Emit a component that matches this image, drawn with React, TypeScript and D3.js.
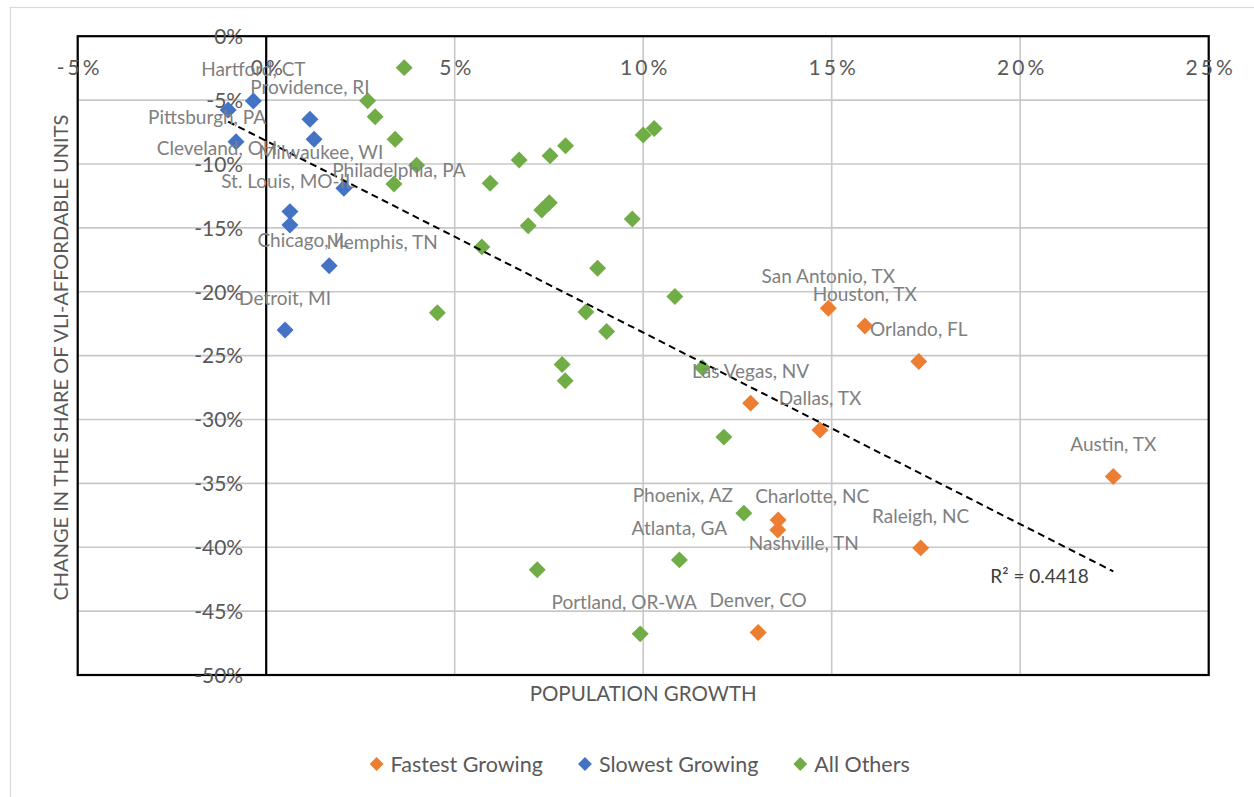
import { useEffect, useRef } from 'react'
import * as d3 from 'd3'

// Fastest growing metros (population growth %, change in VLI-affordable share %)
const fastNames = ['San Antonio, TX', 'Houston, TX', 'Orlando, FL', 'Las Vegas, NV', 'Dallas, TX', 'Austin, TX', 'Charlotte, NC', 'Nashville, TN', 'Raleigh, NC', 'Denver, CO']
const fastX = [14.91, 15.88, 17.31, 12.85, 14.69, 22.47, 13.58, 13.57, 17.36, 13.05]
const fastY = [-21.29, -22.68, -25.47, -28.72, -30.82, -34.47, -37.86, -38.65, -40.05, -46.67]

// Slowest growing metros
const slowNames = ['Hartford, CT', 'Pittsburgh, PA', 'Cleveland, OH', 'Providence, RI', 'Milwaukee, WI', 'Philadelphia, PA', 'St. Louis, MO-IL', 'Chicago, IL', 'Memphis, TN', 'Detroit, MI']
const slowX = [-0.34, -1.01, -0.8, 1.16, 1.27, 2.06, 0.63, 0.63, 1.67, 0.5]
const slowY = [-5.07, -5.77, -8.26, -6.5, -8.07, -11.9, -13.73, -14.77, -17.96, -22.99]

// All other metros (only three carry labels)
const otherNames = ['', '', '', '', '', '', '', '', '', '', '', '', '', '', '', '', '', '', '', '', '', '', '', '', '', '', 'Phoenix, AZ', 'Atlanta, GA', '', 'Portland, OR-WA']
const otherX = [3.66, 2.69, 2.89, 3.42, 3.99, 3.39, 4.54, 5.94, 6.71, 7.53, 7.94, 10.0, 10.29, 7.51, 7.31, 6.95, 9.71, 5.72, 8.79, 10.84, 8.48, 9.03, 7.85, 7.93, 11.57, 12.14, 12.67, 10.96, 7.19, 9.92]
const otherY = [-2.46, -5.05, -6.3, -8.07, -10.1, -11.56, -21.64, -11.51, -9.69, -9.35, -8.57, -7.73, -7.22, -13.04, -13.6, -14.84, -14.3, -16.49, -18.16, -20.38, -21.58, -23.12, -25.7, -26.96, -25.95, -31.38, -37.33, -40.99, -41.77, -46.78]

const xTicks = [-5, 0, 5, 10, 15, 20, 25]
const yTicks = [0, -5, -10, -15, -20, -25, -30, -35, -40, -45, -50]
const rSquaredText = 'R² = 0.4418'

// label placement relative to the marker, px (default: centred above)
const labelNudge: Record<string, [number, number]> = {
  'Pittsburgh, PA': [-21, 7],
  'Cleveland, OH': [-19, 7],
  'Milwaukee, WI': [7, 13],
  'Philadelphia, PA': [55, -18],
  'St. Louis, MO-IL': [-2, -30],
  'Chicago, IL': [13, 15],
  'Memphis, TN': [53, -23],
  'Charlotte, NC': [34, -24],
  'Nashville, TN': [26, 13],
  'Phoenix, AZ': [-61, -18],
  'Portland, OR-WA': [-16, -32],
}

const series = [
  { name: 'Fastest Growing', color: '#ED7D31', names: fastNames, xs: fastX, ys: fastY },
  { name: 'Slowest Growing', color: '#4472C4', names: slowNames, xs: slowX, ys: slowY },
  { name: 'All Others', color: '#70AD47', names: otherNames, xs: otherX, ys: otherY },
]

const FONT = 'Lato, "Open Sans", sans-serif'

export default function App() {
  const svgRef = useRef<SVGSVGElement>(null)

  useEffect(() => {
    document.body.style.margin = '0'
    if (!svgRef.current) return
    const svg = d3.select(svgRef.current)
    svg.selectAll('*').remove()

    const left = 77.7, right = 1208.7, top = 36.2, bottom = 675

    const x = d3.scaleLinear().domain([-5, 25]).range([left, right])
    const y = d3.scaleLinear().domain([-50, 0]).range([bottom, top])

    // chart area border
    svg.append('rect')
      .attr('x', 10.5).attr('y', 7.5).attr('width', 1400).attr('height', 900)
      .attr('fill', '#fff').attr('stroke', '#d9d9d9').attr('stroke-width', 1.2)

    const g = svg.append('g')

    // Grid
    g.append('g')
      .selectAll('line')
      .data(xTicks)
      .join('line')
      .attr('x1', d => x(d)).attr('x2', d => x(d))
      .attr('y1', top).attr('y2', bottom)
      .attr('stroke', '#c8c8c8').attr('stroke-width', 1.6)
    g.append('g')
      .selectAll('line')
      .data(yTicks)
      .join('line')
      .attr('x1', left).attr('x2', right)
      .attr('y1', d => y(d)).attr('y2', d => y(d))
      .attr('stroke', '#c8c8c8').attr('stroke-width', 1.6)

    // Plot border + axis lines
    g.append('rect')
      .attr('x', left).attr('y', top).attr('width', right - left).attr('height', bottom - top)
      .attr('fill', 'none').attr('stroke', '#000').attr('stroke-width', 2.2)
    g.append('line')
      .attr('x1', x(0)).attr('x2', x(0)).attr('y1', top).attr('y2', bottom)
      .attr('stroke', '#000').attr('stroke-width', 2.2)

    // Axes (labels only)
    const xAxis = g.append('g').attr('transform', `translate(0,${y(0)})`)
      .call(d3.axisBottom(x).tickValues(xTicks).tickSize(0).tickFormat(d => `${d}%`))
    xAxis.select('.domain').remove()
    xAxis.selectAll('text')
      .attr('y', 31.5).attr('dy', '0.35em').attr('dx', 1.5)
      .attr('font-family', FONT).attr('font-size', '21px').attr('fill', '#595959')
      .attr('letter-spacing', '3px')

    const yAxis = g.append('g').attr('transform', `translate(${x(0)},0)`)
      .call(d3.axisLeft(y).tickValues(yTicks).tickSize(0).tickFormat(d => `${d}%`))
    yAxis.select('.domain').remove()
    yAxis.selectAll('text')
      .attr('x', -23).attr('dy', '0.35em')
      .attr('font-family', FONT).attr('font-size', '21px').attr('fill', '#595959')

    // Markers
    const diamond = d3.symbol().type(d3.symbolSquare).size(144)
    series.forEach(s => {
      g.append('g')
        .selectAll('path')
        .data(s.xs.map((v, i) => ({ x: v, y: s.ys[i] })))
        .join('path')
        .attr('d', diamond)
        .attr('transform', d => `translate(${x(d.x)},${y(d.y)}) rotate(45)`)
        .attr('fill', s.color)
    })

    // Linear trendline over all points
    const allX = [...fastX, ...slowX, ...otherX]
    const allY = [...fastY, ...slowY, ...otherY]
    const mx = d3.mean(allX) ?? 0
    const my = d3.mean(allY) ?? 0
    let sxy = 0, sxx = 0
    allX.forEach((v, i) => { sxy += (v - mx) * (allY[i] - my); sxx += (v - mx) ** 2 })
    const slope = sxy / sxx
    const intercept = my - slope * mx
    const [x0, x1] = d3.extent(allX) as [number, number]
    g.append('line')
      .attr('x1', x(x0)).attr('y1', y(intercept + slope * x0))
      .attr('x2', x(x1)).attr('y2', y(intercept + slope * x1))
      .attr('stroke', '#000').attr('stroke-width', 2).attr('stroke-dasharray', '7 4.5')

    g.append('text')
      .attr('x', x(x1) - 123).attr('y', y(intercept + slope * x1) + 5)
      .attr('dy', '0.35em')
      .attr('font-family', FONT).attr('font-size', '19px').attr('fill', '#404040')
      .text(rSquaredText)

    // Data labels
    series.forEach(s => {
      const labelled = s.names.map((n, i) => ({ n, x: s.xs[i], y: s.ys[i] })).filter(d => d.n)
      g.append('g')
        .selectAll('text')
        .data(labelled)
        .join('text')
        .attr('x', d => x(d.x) + (labelNudge[d.n]?.[0] ?? 0))
        .attr('y', d => y(d.y) + (labelNudge[d.n]?.[1] ?? -32))
        .attr('dy', '0.35em')
        .attr('text-anchor', 'middle')
        .attr('font-family', FONT).attr('font-size', '19px').attr('fill', '#808080')
        .text(d => d.n)
    })

    // Axis titles
    svg.append('text')
      .attr('x', (left + right) / 2).attr('y', 694).attr('dy', '0.35em')
      .attr('text-anchor', 'middle')
      .attr('font-family', FONT).attr('font-size', '20.5px').attr('fill', '#595959')
      .text('POPULATION GROWTH')
    svg.append('text')
      .attr('transform', `translate(61,${(top + bottom) / 2 + 2}) rotate(-90)`)
      .attr('dy', '0.35em')
      .attr('text-anchor', 'middle')
      .attr('font-family', FONT).attr('font-size', '20px').attr('fill', '#595959')
      .text('CHANGE IN THE SHARE OF VLI-AFFORDABLE UNITS')

    // Legend
    const legend = svg.append('g')
    const legendY = 764
    const small = d3.symbol().type(d3.symbolSquare).size(96)
    const items = series.map(s => {
      const it = legend.append('g')
      it.append('path').attr('d', small).attr('transform', 'rotate(45)').attr('fill', s.color)
      const t = it.append('text')
        .attr('x', 14).attr('dy', '0.35em')
        .attr('font-family', FONT).attr('font-size', '21.5px').attr('fill', '#595959')
        .text(s.name)
      return { it, w: 14 + (t.node() as SVGTextElement).getComputedTextLength() }
    })
    const gap = 42
    const total = d3.sum(items, d => d.w) + gap * (items.length - 1) + 8
    let cx = (left + right) / 2 - total / 2 + 4
    items.forEach(d => {
      d.it.attr('transform', `translate(${cx},${legendY})`)
      cx += d.w + gap
    })
  }, [])

  return <svg ref={svgRef} width={1254} height={797} style={{ display: 'block' }} />
}
